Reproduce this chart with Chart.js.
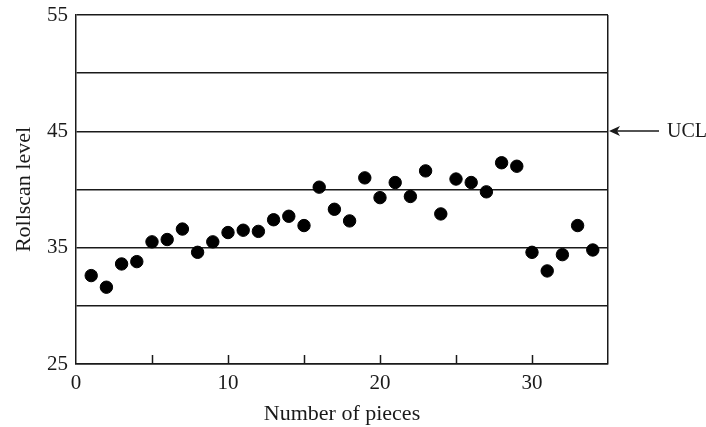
<!DOCTYPE html>
<html>
<head>
<meta charset="utf-8">
<script src="https://cdn.jsdelivr.net/npm/chart.js@4/dist/chart.umd.min.js"></script>
<style>
  html, body { margin: 0; padding: 0; background: #fff; }
  #wrap { width: 706px; height: 427px; }
</style>
</head>
<body>
<div id="wrap"><canvas id="chart" width="706" height="427"></canvas></div>
<script>
// Rollscan readings per piece
const pieces = [1, 2, 3, 4, 5, 6, 7, 8, 9, 10, 11, 12, 13, 14, 15, 16, 17,
    18, 19, 20, 21, 22, 23, 24, 25, 26, 27, 28, 29, 30, 31, 32, 33, 34];
const rollscan = [32.6, 31.6, 33.6, 33.8, 35.5, 35.7, 36.6, 34.6, 35.5, 36.3, 36.5, 36.4, 37.4, 37.7, 36.9, 40.2, 38.3,
    37.3, 41.0, 39.3, 40.6, 39.4, 41.6, 37.9, 40.9, 40.6, 39.8, 42.3, 42.0, 34.6, 33.0, 34.4, 36.9, 34.8];
const yLabels = [25, 35, 45, 55];
const xLabels = [0, 10, 20, 30];
const ucl = 45;

const serif = '"Liberation Serif", "DejaVu Serif", serif';
const ink = '#1a1a1a';

// short tick marks pointing up into the plot, plus the UCL pointer
const extras = {
    id: 'extras',
    afterDraw(chart) {
        const { ctx, scales: { x, y }, chartArea } = chart;
        ctx.save();
        ctx.strokeStyle = ink;
        ctx.lineWidth = 1.5;
        for (let v = 5; v < 35; v += 5) {
            const px = Math.round(x.getPixelForValue(v)) + 0.5;
            ctx.beginPath();
            ctx.moveTo(px, chartArea.bottom);
            ctx.lineTo(px, chartArea.bottom - 9);
            ctx.stroke();
        }
        const py = Math.round(y.getPixelForValue(ucl));
        const ax = chartArea.right + 1;
        ctx.beginPath();
        ctx.moveTo(ax + 50, py);
        ctx.lineTo(ax + 6, py);
        ctx.stroke();
        ctx.fillStyle = ink;
        ctx.beginPath();
        ctx.moveTo(ax, py);
        ctx.lineTo(ax + 11, py - 5);
        ctx.lineTo(ax + 8, py);
        ctx.lineTo(ax + 11, py + 5);
        ctx.closePath();
        ctx.fill();
        ctx.font = '20px ' + serif;
        ctx.textBaseline = 'middle';
        ctx.textAlign = 'left';
        ctx.fillText('UCL', ax + 58, py + 1);
        ctx.restore();
    }
};

new Chart(document.getElementById('chart'), {
    type: 'scatter',
    data: {
        datasets: [{
            data: pieces.map((p, i) => ({ x: p, y: rollscan[i] })),
            backgroundColor: '#000',
            borderColor: '#000',
            pointRadius: 6.2,
            pointHoverRadius: 6.2
        }]
    },
    options: {
        responsive: false,
        animation: false,
        events: [],
        layout: { padding: { top: 15, right: 98, left: 0, bottom: 0 } },
        plugins: { legend: { display: false }, tooltip: { enabled: false } },
        scales: {
            x: {
                type: 'linear',
                min: 0,
                max: 35,
                afterBuildTicks(axis) {
                    axis.ticks = [0, 5, 10, 15, 20, 25, 30, 35].map(v => ({ value: v }));
                },
                afterFit(axis) {
                    axis.height = 63;
                    axis.paddingLeft = 0;
                    axis.paddingRight = 0;
                },
                ticks: {
                    autoSkip: false,
                    maxRotation: 0,
                    padding: 7,
                    color: ink,
                    font: { family: serif, size: 21 },
                    callback: v => xLabels.includes(v) ? String(v) : ''
                },
                grid: {
                    drawTicks: false,
                    lineWidth: 1.5,
                    color: ctx => ctx.tick && ctx.tick.value === 35 ? ink : 'rgba(0,0,0,0)'
                },
                border: { display: true, color: ink, width: 1.5 },
                title: {
                    display: true,
                    text: 'Number of pieces',
                    color: ink,
                    font: { family: serif, size: 22 },
                    padding: { top: 0, bottom: 0 }
                }
            },
            y: {
                min: 25,
                max: 55,
                afterBuildTicks(axis) {
                    axis.ticks = [25, 30, 35, 40, 45, 50, 55].map(v => ({ value: v }));
                },
                afterFit(axis) {
                    axis.width = 76;
                    axis.paddingTop = 0;
                    axis.paddingBottom = 0;
                },
                ticks: {
                    autoSkip: false,
                    padding: 8,
                    color: ink,
                    font: { family: serif, size: 21 },
                    callback: v => yLabels.includes(v) ? String(v) : ''
                },
                grid: { drawTicks: false, color: ink, lineWidth: 1.5 },
                border: { display: true, color: ink, width: 1.5 },
                title: {
                    display: true,
                    text: 'Rollscan level',
                    color: ink,
                    font: { family: serif, size: 22 },
                    padding: { top: 11, bottom: 0 }
                }
            }
        }
    },
    plugins: [extras]
});
</script>
</body>
</html>
